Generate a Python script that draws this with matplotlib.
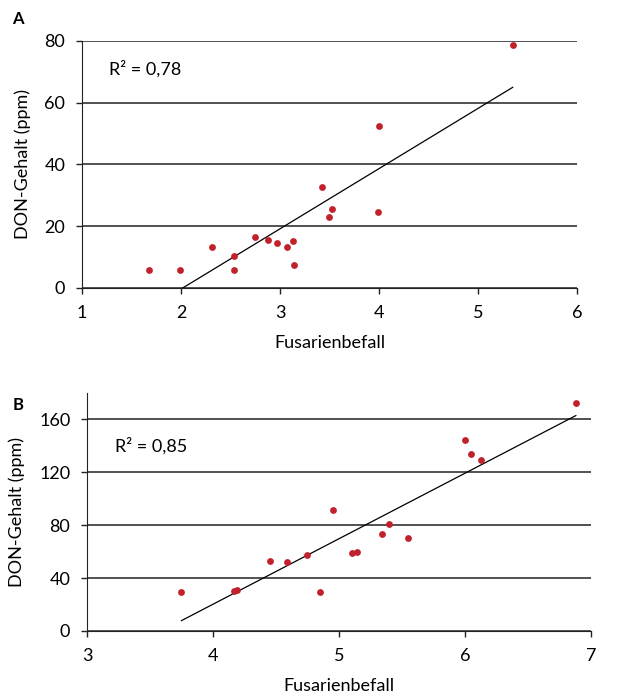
import numpy as np
import matplotlib
matplotlib.use("Agg")
import matplotlib.pyplot as plt

plt.rcParams['font.family'] = ['Lato', 'DejaVu Sans']

# Panel A
a_befall = [1.68, 1.99, 2.31, 2.54, 2.54, 2.75, 2.88, 2.97, 3.07, 3.13, 3.14,
            3.42, 3.49, 3.52, 3.99, 4.00, 5.35]
a_don = [5.7, 5.9, 13.2, 10.4, 5.7, 16.4, 15.7, 14.5, 13.4, 15.2, 7.4,
         32.8, 23.0, 25.5, 24.6, 52.4, 78.6]
a_r2 = "0,78"

# Panel B
b_befall = [3.75, 4.17, 4.19, 4.45, 4.59, 4.75, 4.85, 4.95, 5.10, 5.14, 5.34,
            5.40, 5.55, 6.00, 6.05, 6.13, 6.88]
b_don = [29.5, 30.3, 31.3, 53.3, 52.5, 57.1, 29.5, 91.7, 59.1, 60.1, 73.7,
         80.6, 70.7, 144.7, 133.8, 129.3, 172.2]
b_r2 = "0,85"

DOT = '#c0212b'
FS = 13


def panel(fig, rect, x, y, r2, xlim, ylim, yticks, r2_y):
    ax = fig.add_axes(rect)
    x = np.array(x)
    y = np.array(y)
    ax.scatter(x, y, s=24, color=DOT, zorder=3, linewidths=0)
    # lineare Trendlinie
    k, d = np.polyfit(x, y, 1)
    xs = np.array([x.min(), x.max()])
    ax.plot(xs, k * xs + d, color='black', lw=0.9, zorder=2)

    ax.set_xlim(*xlim)
    ax.set_ylim(*ylim)
    ax.set_xticks(range(xlim[0], xlim[1] + 1))
    ax.set_yticks(yticks)
    for t in yticks:
        ax.axhline(t, color='#222222', lw=1.1, zorder=1)
    for s in ['top', 'right']:
        ax.spines[s].set_visible(False)
    ax.spines['left'].set_color('#222222')
    ax.spines['bottom'].set_color('#222222')
    ax.tick_params(labelsize=FS, length=4, width=1, color='#222222', pad=8)
    ax.set_xlabel('Fusarienbefall', fontsize=FS, labelpad=10)
    ax.set_ylabel('DON-Gehalt (ppm)', fontsize=FS, labelpad=10)
    ax.text(0.055, r2_y, 'R² = ' + r2, transform=ax.transAxes,
            fontsize=FS, va='center')
    return ax


fig = plt.figure(figsize=(6.19, 6.98), dpi=100)
panel(fig, [0.1325, 0.5874, 0.7997, 0.3539], a_befall, a_don, a_r2,
      (1, 6), (0, 80), [0, 20, 40, 60, 80], 0.887)
panel(fig, [0.1405, 0.096, 0.8142, 0.341], b_befall, b_don, b_r2,
      (3, 7), (0, 180), [0, 40, 80, 120, 160], 0.777)

fig.text(0.02, 0.973, 'A', fontsize=12, fontweight='bold', va='center')
fig.text(0.02, 0.42, 'B', fontsize=12, fontweight='bold', va='center')

fig.savefig('out.png', dpi=100)
